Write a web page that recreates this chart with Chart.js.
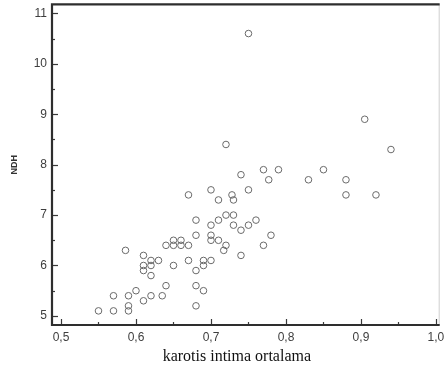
<!DOCTYPE html>
<html>
<head>
<meta charset="utf-8">
<script src="https://cdn.jsdelivr.net/npm/chart.js@4/dist/chart.umd.min.js"></script>
<style>
  html, body { margin: 0; padding: 0; background: #fff; }
  #wrap { width: 444px; height: 373px; }
</style>
</head>
<body>
<div id="wrap"><canvas id="c" width="444" height="373"></canvas></div>
<script>
// ---- data ----
const xValues = [0.55, 0.57, 0.59, 0.59, 0.57, 0.59, 0.60, 0.61, 0.62, 0.635, 0.64, 0.68, 0.68, 0.69,
  0.586, 0.61, 0.62, 0.63, 0.61, 0.62, 0.61, 0.62, 0.65, 0.67, 0.69, 0.70, 0.69, 0.68,
  0.64, 0.65, 0.66, 0.65, 0.66, 0.67, 0.68, 0.70, 0.70, 0.71, 0.72, 0.717, 0.74, 0.77, 0.78,
  0.68, 0.70, 0.71, 0.72, 0.73, 0.73, 0.74, 0.75, 0.76, 0.71, 0.73, 0.728, 0.67, 0.70, 0.75,
  0.74, 0.72, 0.77, 0.79, 0.777, 0.83, 0.85, 0.88, 0.88, 0.92, 0.905, 0.94, 0.75];
const ndhValues = [5.1, 5.1, 5.1, 5.2, 5.4, 5.4, 5.5, 5.3, 5.4, 5.4, 5.6, 5.2, 5.6, 5.5,
  6.3, 6.2, 6.1, 6.1, 6.0, 6.0, 5.9, 5.8, 6.0, 6.1, 6.1, 6.1, 6.0, 5.9,
  6.4, 6.5, 6.5, 6.4, 6.4, 6.4, 6.6, 6.6, 6.5, 6.5, 6.4, 6.3, 6.2, 6.4, 6.6,
  6.9, 6.8, 6.9, 7.0, 7.0, 6.8, 6.7, 6.8, 6.9, 7.3, 7.3, 7.4, 7.4, 7.5, 7.5,
  7.8, 8.4, 7.9, 7.9, 7.7, 7.7, 7.9, 7.7, 7.4, 7.4, 8.9, 8.3, 10.6];
const xTicks = [0.5, 0.6, 0.7, 0.8, 0.9, 1.0];
const xMinorTicks = [0.55, 0.65, 0.75, 0.85, 0.95];
const yTicks = [5, 6, 7, 8, 9, 10, 11];
const yMinorTicks = [5.5, 6.5, 7.5, 8.5, 9.5, 10.5];
const xTitle = 'karotis intima ortalama';
const yTitle = 'NDH';

const points = xValues.map((x, i) => ({ x: x, y: ndhValues[i] }));

// frame + inward tick marks drawn through the chart's scales
const framePlugin = {
  id: 'frame',
  beforeDatasetsDraw(chart) {
    const { ctx, chartArea: a, scales } = chart;
    const xs = scales.x, ys = scales.y;
    ctx.save();
    ctx.strokeStyle = '#3a3a3a';
    ctx.lineWidth = 1.2;
    xTicks.forEach(v => { const p = Math.round(xs.getPixelForValue(v)) + 0.5;
      ctx.beginPath(); ctx.moveTo(p, a.bottom); ctx.lineTo(p, a.bottom - 6); ctx.stroke(); });
    xMinorTicks.forEach(v => { const p = Math.round(xs.getPixelForValue(v)) + 0.5;
      ctx.beginPath(); ctx.moveTo(p, a.bottom); ctx.lineTo(p, a.bottom - 3); ctx.stroke(); });
    yTicks.forEach(v => { const p = Math.round(ys.getPixelForValue(v)) + 0.5;
      ctx.beginPath(); ctx.moveTo(a.left, p); ctx.lineTo(a.left + 6, p); ctx.stroke(); });
    yMinorTicks.forEach(v => { const p = Math.round(ys.getPixelForValue(v)) + 0.5;
      ctx.beginPath(); ctx.moveTo(a.left, p); ctx.lineTo(a.left + 3, p); ctx.stroke(); });
    ctx.strokeStyle = '#cfcfcf';
    ctx.lineWidth = 1;
    ctx.beginPath(); ctx.moveTo(a.right - 0.5, a.top); ctx.lineTo(a.right - 0.5, a.bottom); ctx.stroke();
    ctx.strokeStyle = '#2e2e2e';
    ctx.lineWidth = 2.2;
    ctx.beginPath();
    ctx.moveTo(a.right, a.top); ctx.lineTo(a.left, a.top); ctx.lineTo(a.left, a.bottom); ctx.lineTo(a.right, a.bottom);
    ctx.stroke();
    ctx.restore();
  },
  afterDraw(chart) {
    // x-axis title, set slightly left of the plot centre as in the reference
    const { ctx, chartArea: a } = chart;
    ctx.save();
    ctx.fillStyle = '#111';
    ctx.font = '16px "Liberation Serif"';
    ctx.textAlign = 'center';
    ctx.textBaseline = 'middle';
    ctx.fillText(xTitle, (a.left + a.right) / 2 - 9, a.bottom + 32);
    ctx.restore();
  }
};

new Chart(document.getElementById('c'), {
  type: 'scatter',
  data: {
    datasets: [{
      data: points,
      pointStyle: 'circle',
      pointRadius: 3.3,
      pointHoverRadius: 3.3,
      borderColor: '#6a6a6a',
      backgroundColor: 'rgba(0,0,0,0)',
      borderWidth: 1
    }]
  },
  options: {
    responsive: false,
    animation: false,
    devicePixelRatio: 1,
    layout: { padding: { top: 3, right: 3, left: 0, bottom: 0 } },
    plugins: { legend: { display: false }, tooltip: { enabled: false } },
    scales: {
      x: {
        type: 'linear',
        min: 0.488, max: 1.005,
        grid: { display: false, drawTicks: false },
        border: { display: false },
        afterBuildTicks: s => { s.ticks = xTicks.map(v => ({ value: v })); },
        afterFit: s => { s.height = 48; s.paddingLeft = 0; s.paddingRight = 0; },
        ticks: {
          padding: 5,
          color: '#3e3e3e',
          font: { family: 'Liberation Sans', size: 12 },
          maxRotation: 0,
          callback: v => Number(v).toFixed(1).replace('.', ',')
        },
        title: { display: false }
      },
      y: {
        type: 'linear',
        min: 4.82, max: 11.18,
        grid: { display: false, drawTicks: false },
        border: { display: false },
        afterBuildTicks: s => { s.ticks = yTicks.map(v => ({ value: v })); },
        afterFit: s => { s.width = 52; s.paddingTop = 0; s.paddingBottom = 0; },
        ticks: {
          padding: 5,
          color: '#3e3e3e',
          font: { family: 'Liberation Sans', size: 12 },
          callback: v => String(v)
        },
        title: {
          display: true, text: yTitle, color: '#333',
          font: { family: 'Liberation Sans', size: 9, weight: 'bold' },
          padding: { top: 9.5, bottom: 0 }
        }
      }
    }
  },
  plugins: [framePlugin]
});
</script>
</body>
</html>
